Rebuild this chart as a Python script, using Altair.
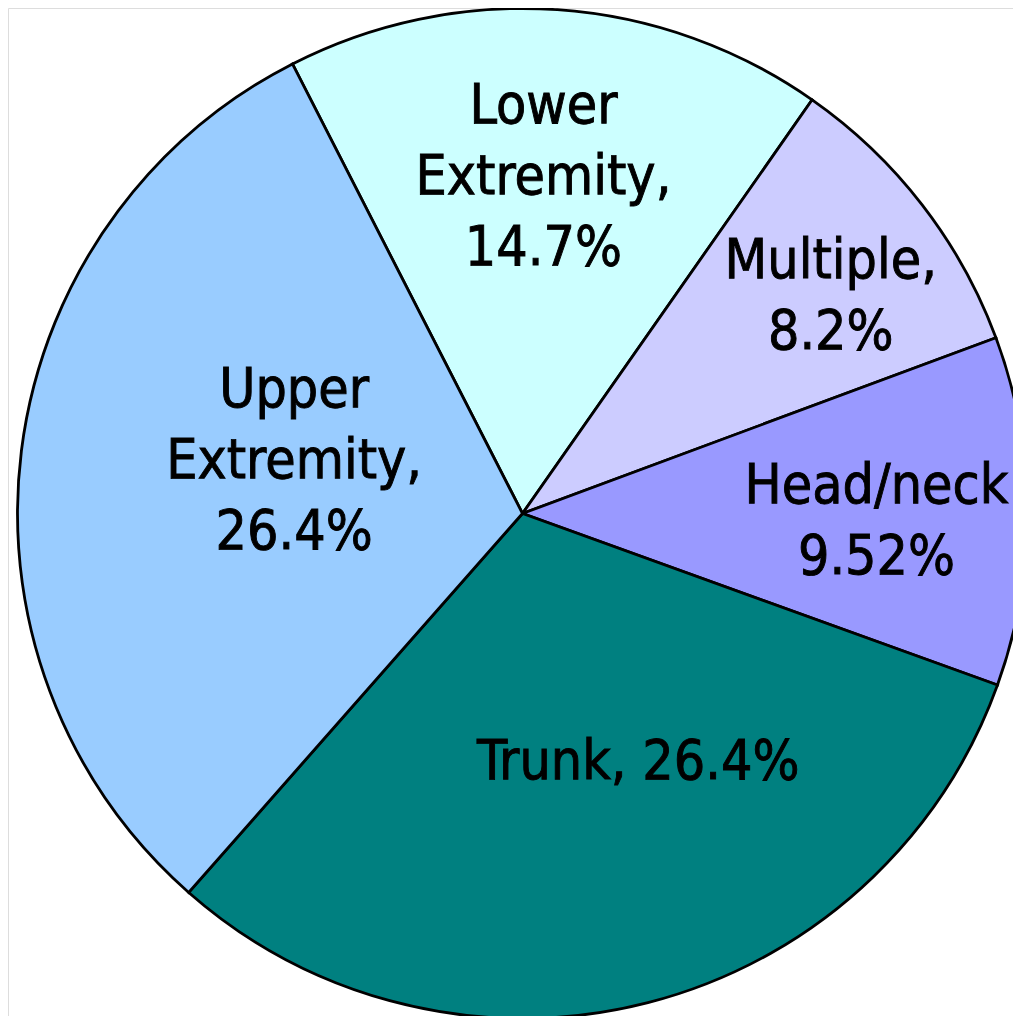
import math
import altair as alt
import pandas as pd

categories = ["Lower Extremity", "Multiple", "Head/neck", "Trunk", "Upper Extremity"]
values = [14.7, 8.2, 9.52, 26.4, 26.4]
labels = ["Lower\nExtremity,\n14.7%", "Multiple,\n8.2%", "Head/neck\n9.52%",
          "Trunk, 26.4%", "Upper\nExtremity,\n26.4%"]
colors = ["#CCFFFF", "#CCCCFF", "#9999FF", "#008080", "#99CCFF"]

df = pd.DataFrame({"cat": categories, "value": values, "label": labels,
                   "idx": list(range(len(categories)))})

total = sum(values)
start = math.radians(332.9)
theta_scale = alt.Scale(domain=[0, total], range=[start, start + 2 * math.pi])

W, H = 1005, 1008
CX, CY = 514.5, 505.5
R = 505
FONT = "DejaVu Sans Condensed, DejaVu Sans"
LH = 71

base = alt.Chart(df)

pie = base.mark_arc(radius=R, stroke="black", strokeWidth=2.8).encode(
    theta=alt.Theta("value:Q", stack=True, scale=theta_scale),
    color=alt.Color("cat:N", scale=alt.Scale(domain=categories, range=colors), legend=None),
    order=alt.Order("idx:Q"),
    x=alt.value(CX),
    y=alt.value(CY),
)

lab = base.transform_window(
    cum="sum(value)", sort=[alt.SortField("idx")], frame=[None, 0]
).transform_calculate(mid="datum.cum - datum.value / 2")


def label_layer(cat, r, dx, dy, nlines):
    return lab.transform_filter(alt.datum.cat == cat).mark_text(
        radius=r, dx=dx, dy=dy - 4 - (nlines - 1) * LH / 2, font=FONT, fontSize=55,
        lineHeight=LH, lineBreak="\n", color="black", stroke="black",
        strokeWidth=0.9, align="center", baseline="middle",
    ).encode(
        theta=alt.Theta("mid:Q", stack=False, scale=theta_scale),
        text="label:N",
        x=alt.value(CX),
        y=alt.value(CY),
    )


texts = [
    label_layer("Lower Extremity", 333, -2, 0, 3),
    label_layer("Multiple", 375.6, 11, 17, 2),
    label_layer("Head/neck", 354, 0, 14, 2),
    label_layer("Trunk", 276.5, 47, -15, 1),
    label_layer("Upper Extremity", 233.2, 3, -19.5, 3),
]

chart = alt.layer(pie, *texts).properties(
    width=W, height=H, padding=0,
    autosize=alt.AutoSizeParams(type="none"),
).configure_view(strokeWidth=0).configure(background="white")

chart.save("out.html", embed_options={"renderer": "svg", "actions": False})
